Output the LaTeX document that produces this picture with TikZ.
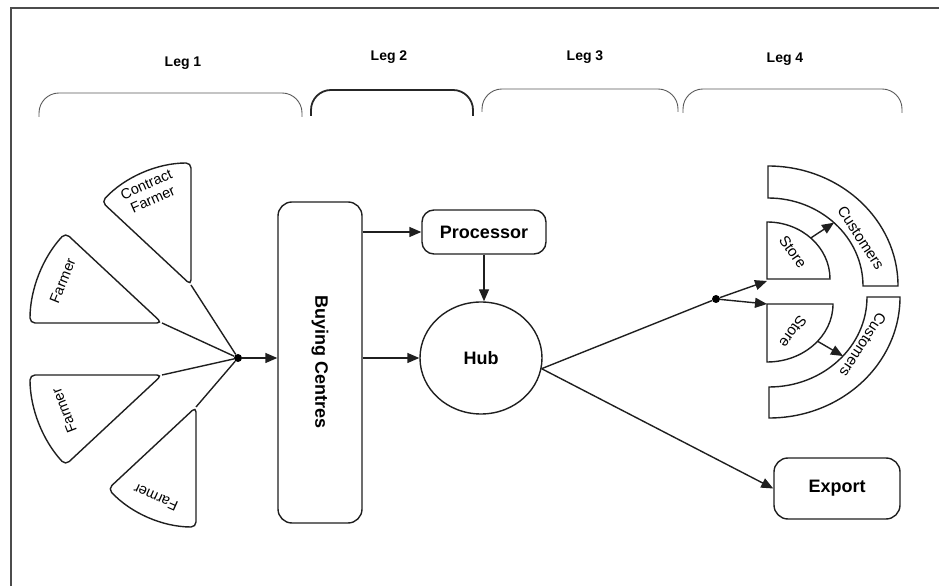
\documentclass[tikz,border=0pt]{standalone}
\usepackage{fontspec}
\usepackage{graphicx}
\setmainfont{Liberation Sans}
\usetikzlibrary{arrows.meta,shapes.geometric,calc}
\begin{document}
\begin{tikzpicture}[x=1pt,y=1pt,
  ln/.style={line width=1.4pt, draw=black!88},
  arr/.style={ln, -{Triangle[length=12pt,width=10pt]}},
  boxn/.style={ln, draw, rounded corners=13pt, inner sep=0pt, font=\fontsize{18}{21}\selectfont\bfseries},
  lbl/.style={font=\fontsize{14.5}{16}\selectfont, inner sep=0pt, align=center},
  cul/.style={font=\fontsize{15}{17}\selectfont, inner sep=0pt},
  legl/.style={font=\fontsize{14}{17}\selectfont\bfseries, inner sep=0pt},
  brace/.style={line width=0.9pt, draw=black!65, rounded corners=20pt},
  dotn/.style={circle, fill=black, inner sep=0pt, minimum size=8pt},
  sect/.style={ln, rounded corners=5pt}
]
\useasboundingbox (0,0) rectangle (939,586);
% frame
\draw[line width=2.2pt, black!70] (11,0) -- (11,578) -- (939,578);

% legs
\node[legl] (leg1) at (183,523) {Leg 1};
\node[legl] (leg2) at (389,529) {Leg 2};
\node[legl] (leg3) at (585,529) {Leg 3};
\node[legl] (leg4) at (785,527) {Leg 4};
\draw[brace] (39,469) -- (39,493) -- (302,493) -- (302,469);
\draw[brace, line width=1.8pt, draw=black!85] (311,470) -- (311,496) -- (473,496) -- (473,470);
\draw[brace] (482,474) -- (482,497) -- (678,497) -- (678,474);
\draw[brace] (683,473) -- (683,497) -- (902,497) -- (902,473);

% farmers fan
\node[dotn] (ldot) at (238,228) {};
\coordinate (a1) at (191,301);
\coordinate (a2) at (162,263);
\coordinate (a3) at (162,211);
\coordinate (a4) at (196,179);
\draw[ln] (a1) -- (ldot);
\draw[ln] (a2) -- (ldot);
\draw[ln] (a3) -- (ldot);
\draw[ln] (a4) -- (ldot);
\draw[sect] (a1) -- ++(90:122) arc[start angle=90,end angle=137,radius=122] -- cycle;
\draw[sect] (a2) -- ++(137:132) arc[start angle=137,end angle=180,radius=132] -- cycle;
\draw[sect] (a3) -- ++(180:132) arc[start angle=180,end angle=223,radius=132] -- cycle;
\draw[sect] (a4) -- ++(223:120) arc[start angle=223,end angle=270,radius=120] -- cycle;
\node[lbl, rotate=24] (f1) at ([shift={(114:102)}]a1) {Contract\\Farmer};
\node[lbl, rotate=68] (f2) at ([shift={(157:108)}]a2) {Farmer};
\node[lbl, rotate=111] (f3) at ([shift={(200:104)}]a3) {Farmer};
\node[lbl, rotate=156] (f4) at ([shift={(246:99)}]a4) {Farmer};

% buying centres, processor, hub, export
\node[boxn, minimum width=84pt, minimum height=321pt, rounded corners=14pt] (bc) at (320,223.5) {\rotatebox{-90}{Buying Centres}};
\node[boxn, minimum width=124pt, minimum height=44pt, rounded corners=12pt] (proc) at (484,354) {Processor};
\node[ln, draw, ellipse, minimum width=122pt, minimum height=112pt, inner sep=0pt, font=\fontsize{18}{21}\selectfont\bfseries] (hub) at (481,228) {Hub};
\node[boxn, minimum width=126pt, minimum height=61pt, rounded corners=14pt] (exp) at (837,97.5) {Export};

\draw[arr] (ldot) -- (ldot -| bc.west);
\draw[arr] (bc.east |- proc.west) -- (proc.west);
\draw[arr] (bc.east |- hub.west) -- (hub.west);
\draw[arr] (proc.south) -- (proc.south |- hub.north);
\node[dotn] (rdot) at (716,287) {};
\draw[ln] (hub.-10) -- (rdot);
\draw[arr] (hub.-10) -- (exp.west);

% stores and customers
\coordinate (s1c) at (767,307);
\coordinate (s2c) at (767,282);
\draw[ln] (s1c) -- (830,307) arc[start angle=0,end angle=90,x radius=63,y radius=57] -- cycle;
\draw[ln] (s2c) -- (833,282) arc[start angle=0,end angle=-90,x radius=66,y radius=58] -- cycle;
\draw[ln] (863,300) -- (898,300) arc[start angle=0,end angle=90,x radius=130,y radius=120]
  -- (768,388) arc[start angle=90,end angle=0,x radius=95,y radius=88] -- cycle;
\draw[ln] (867,289) -- (900,289) arc[start angle=0,end angle=-90,x radius=131,y radius=121]
  -- (769,199) arc[start angle=-90,end angle=0,x radius=98,y radius=90] -- cycle;
\draw[arr] (rdot) -- ([yshift=-2pt]s1c);
\draw[arr] (rdot) -- (s2c);
\coordinate (s1o) at ($(767,307)+(46:63 and 57)$);
\coordinate (c1i) at ($(768,300)+(46:95 and 88)$);
\coordinate (s2o) at ($(767,282)+(-40:66 and 58)$);
\coordinate (c2i) at ($(769,289)+(-41:98 and 90)$);
\draw[arr] (s1o) -- (c1i);
\draw[arr] (s2o) -- (c2i);
\node[cul, rotate=-55] (st1) at (793,334) {Store};
\node[cul, rotate=-125] (st2) at (793,254) {Store};
\node[cul, rotate=-57] (cu1) at (861,348) {Customers};
\node[cul, rotate=-123] (cu2) at (863,241) {Customers};
\end{tikzpicture}
\end{document}
